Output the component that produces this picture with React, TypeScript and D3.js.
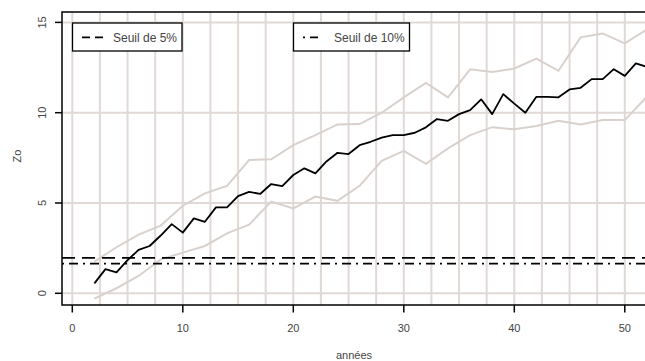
import React from "react";
import * as d3 from "d3";

const years: number[] = d3.range(2, 53);
const zo: number[] = [
  0.55, 1.34, 1.16, 1.84, 2.4, 2.62, 3.2, 3.83, 3.36, 4.15, 3.96, 4.76, 4.76, 5.38, 5.62, 5.5,
  6.05, 5.94, 6.55, 6.92, 6.64, 7.3, 7.78, 7.71, 8.2, 8.39, 8.62, 8.76, 8.76, 8.89, 9.19, 9.65,
  9.55, 9.92, 10.14, 10.74, 9.92, 11.03, 10.5, 10.0, 10.88, 10.88, 10.85, 11.29, 11.38, 11.86,
  11.86, 12.41, 12.04, 12.73, 12.54,
];
const bandYears: number[] = d3.range(2, 53, 2);
const upper: number[] = [
  1.75, 2.55, 3.25, 3.75, 4.85, 5.53, 5.95, 7.38, 7.42, 8.2, 8.76, 9.35, 9.37, 10.0, 10.85,
  11.65, 10.85, 12.4, 12.25, 12.45, 13.0, 12.32, 14.17, 14.39, 13.84, 14.61,
];
const lower: number[] = [
  -0.3, 0.28, 0.96, 1.88, 2.25, 2.62, 3.32, 3.8, 5.08, 4.7, 5.36, 5.12, 5.95, 7.34, 7.89, 7.17,
  8.02, 8.76, 9.2, 9.08, 9.26, 9.55, 9.35, 9.59, 9.59, 10.88,
];
const seuil5 = 1.96;
const seuil10 = 1.645;
const xTicks: number[] = [0, 10, 20, 30, 40, 50];
const yTicks: number[] = [0, 5, 10, 15];
const xGrid: number[] = d3.range(0, 55, 2.5);
const legendLabels: string[] = ["Seuil de 5%", "Seuil de 10%"];

const W = 645;
const H = 361;
const L = 62;
const T = 12;
const B = 305;
const R = 700;

export default function App() {
  const x = d3.scaleLinear().domain([0, 10]).range([72.3, 182.8]);
  const y = d3.scaleLinear().domain([0, 5]).range([293.3, 203.0]);
  const line = d3.line<[number, number]>().x((d) => x(d[0])).y((d) => y(d[1]));
  const mainPts = years.map((t, i) => [t, zo[i]] as [number, number]);
  const upPts = bandYears.map((t, i) => [t, upper[i]] as [number, number]);
  const loPts = bandYears.map((t, i) => [t, lower[i]] as [number, number]);
  const font = "'Liberation Sans', Arial, sans-serif";
  const gridColor = "#e0d9d6";
  const bandColor = "#d9d1cd";
  const textColor = "#444";
  return (
    <svg width={W} height={H} style={{ position: "absolute", left: 0, top: 0, background: "#fff" }} fontFamily={font}>
      <defs>
        <clipPath id="plot">
          <rect x={L} y={T} width={R - L} height={B - T} />
        </clipPath>
      </defs>
      <g clipPath="url(#plot)">
        {xGrid.map((g) => (
          <line key={"gx" + g} x1={x(g)} x2={x(g)} y1={T} y2={B} stroke={gridColor} strokeWidth={2} />
        ))}
        {yTicks.map((g) => (
          <line key={"gy" + g} x1={L} x2={R} y1={y(g)} y2={y(g)} stroke={gridColor} strokeWidth={2} />
        ))}
        <path d={line(upPts) || ""} fill="none" stroke={bandColor} strokeWidth={2} />
        <path d={line(loPts) || ""} fill="none" stroke={bandColor} strokeWidth={2} />
        <line x1={L} x2={R} y1={y(seuil5)} y2={y(seuil5)} stroke="#000" strokeWidth={1.8} strokeDasharray="13,7" />
        <line x1={L} x2={R} y1={y(seuil10)} y2={y(seuil10)} stroke="#000" strokeWidth={1.8} strokeDasharray="2,5,9,5" />
        <path d={line(mainPts) || ""} fill="none" stroke="#000" strokeWidth={1.8} strokeLinejoin="round" />
      </g>
      <rect x={L} y={T} width={R - L} height={B - T} fill="none" stroke="#000" strokeWidth={1.5} />
      {yTicks.map((v) => (
        <g key={"yt" + v}>
          <line x1={55} x2={L} y1={y(v)} y2={y(v)} stroke="#000" strokeWidth={1.5} />
          <text
            transform={`translate(46,${y(v)}) rotate(-90)`}
            textAnchor="middle"
            fontSize={11}
            fill={textColor}
          >
            {v}
          </text>
        </g>
      ))}
      {xTicks.map((v) => (
        <g key={"xt" + v}>
          <line x1={x(v)} x2={x(v)} y1={B} y2={312.5} stroke="#000" strokeWidth={1.5} />
          <text x={x(v)} y={332} textAnchor="middle" fontSize={11} fill={textColor}>
            {v}
          </text>
        </g>
      ))}
      <text x={354} y={359} textAnchor="middle" fontSize={11} fill={textColor}>
        années
      </text>
      <text transform="translate(21,156) rotate(-90)" textAnchor="middle" fontSize={11} fill={textColor}>
        Zo
      </text>
      <g>
        <rect x={72.5} y={23} width={109.5} height={28} fill="#fff" stroke="#000" strokeWidth={1.3} />
        <line x1={82} x2={103} y1={37.3} y2={37.3} stroke="#000" strokeWidth={1.8} strokeDasharray="8,5" />
        <text x={113} y={41.5} fontSize={12} fill={textColor}>
          {legendLabels[0]}
        </text>
      </g>
      <g>
        <rect x={293.5} y={23} width={116} height={28} fill="#fff" stroke="#000" strokeWidth={1.3} />
        <line x1={303} x2={322} y1={37.3} y2={37.3} stroke="#000" strokeWidth={1.8} strokeDasharray="2,5,8,5" />
        <text x={334} y={41.5} fontSize={12} fill={textColor}>
          {legendLabels[1]}
        </text>
      </g>
    </svg>
  );
}
